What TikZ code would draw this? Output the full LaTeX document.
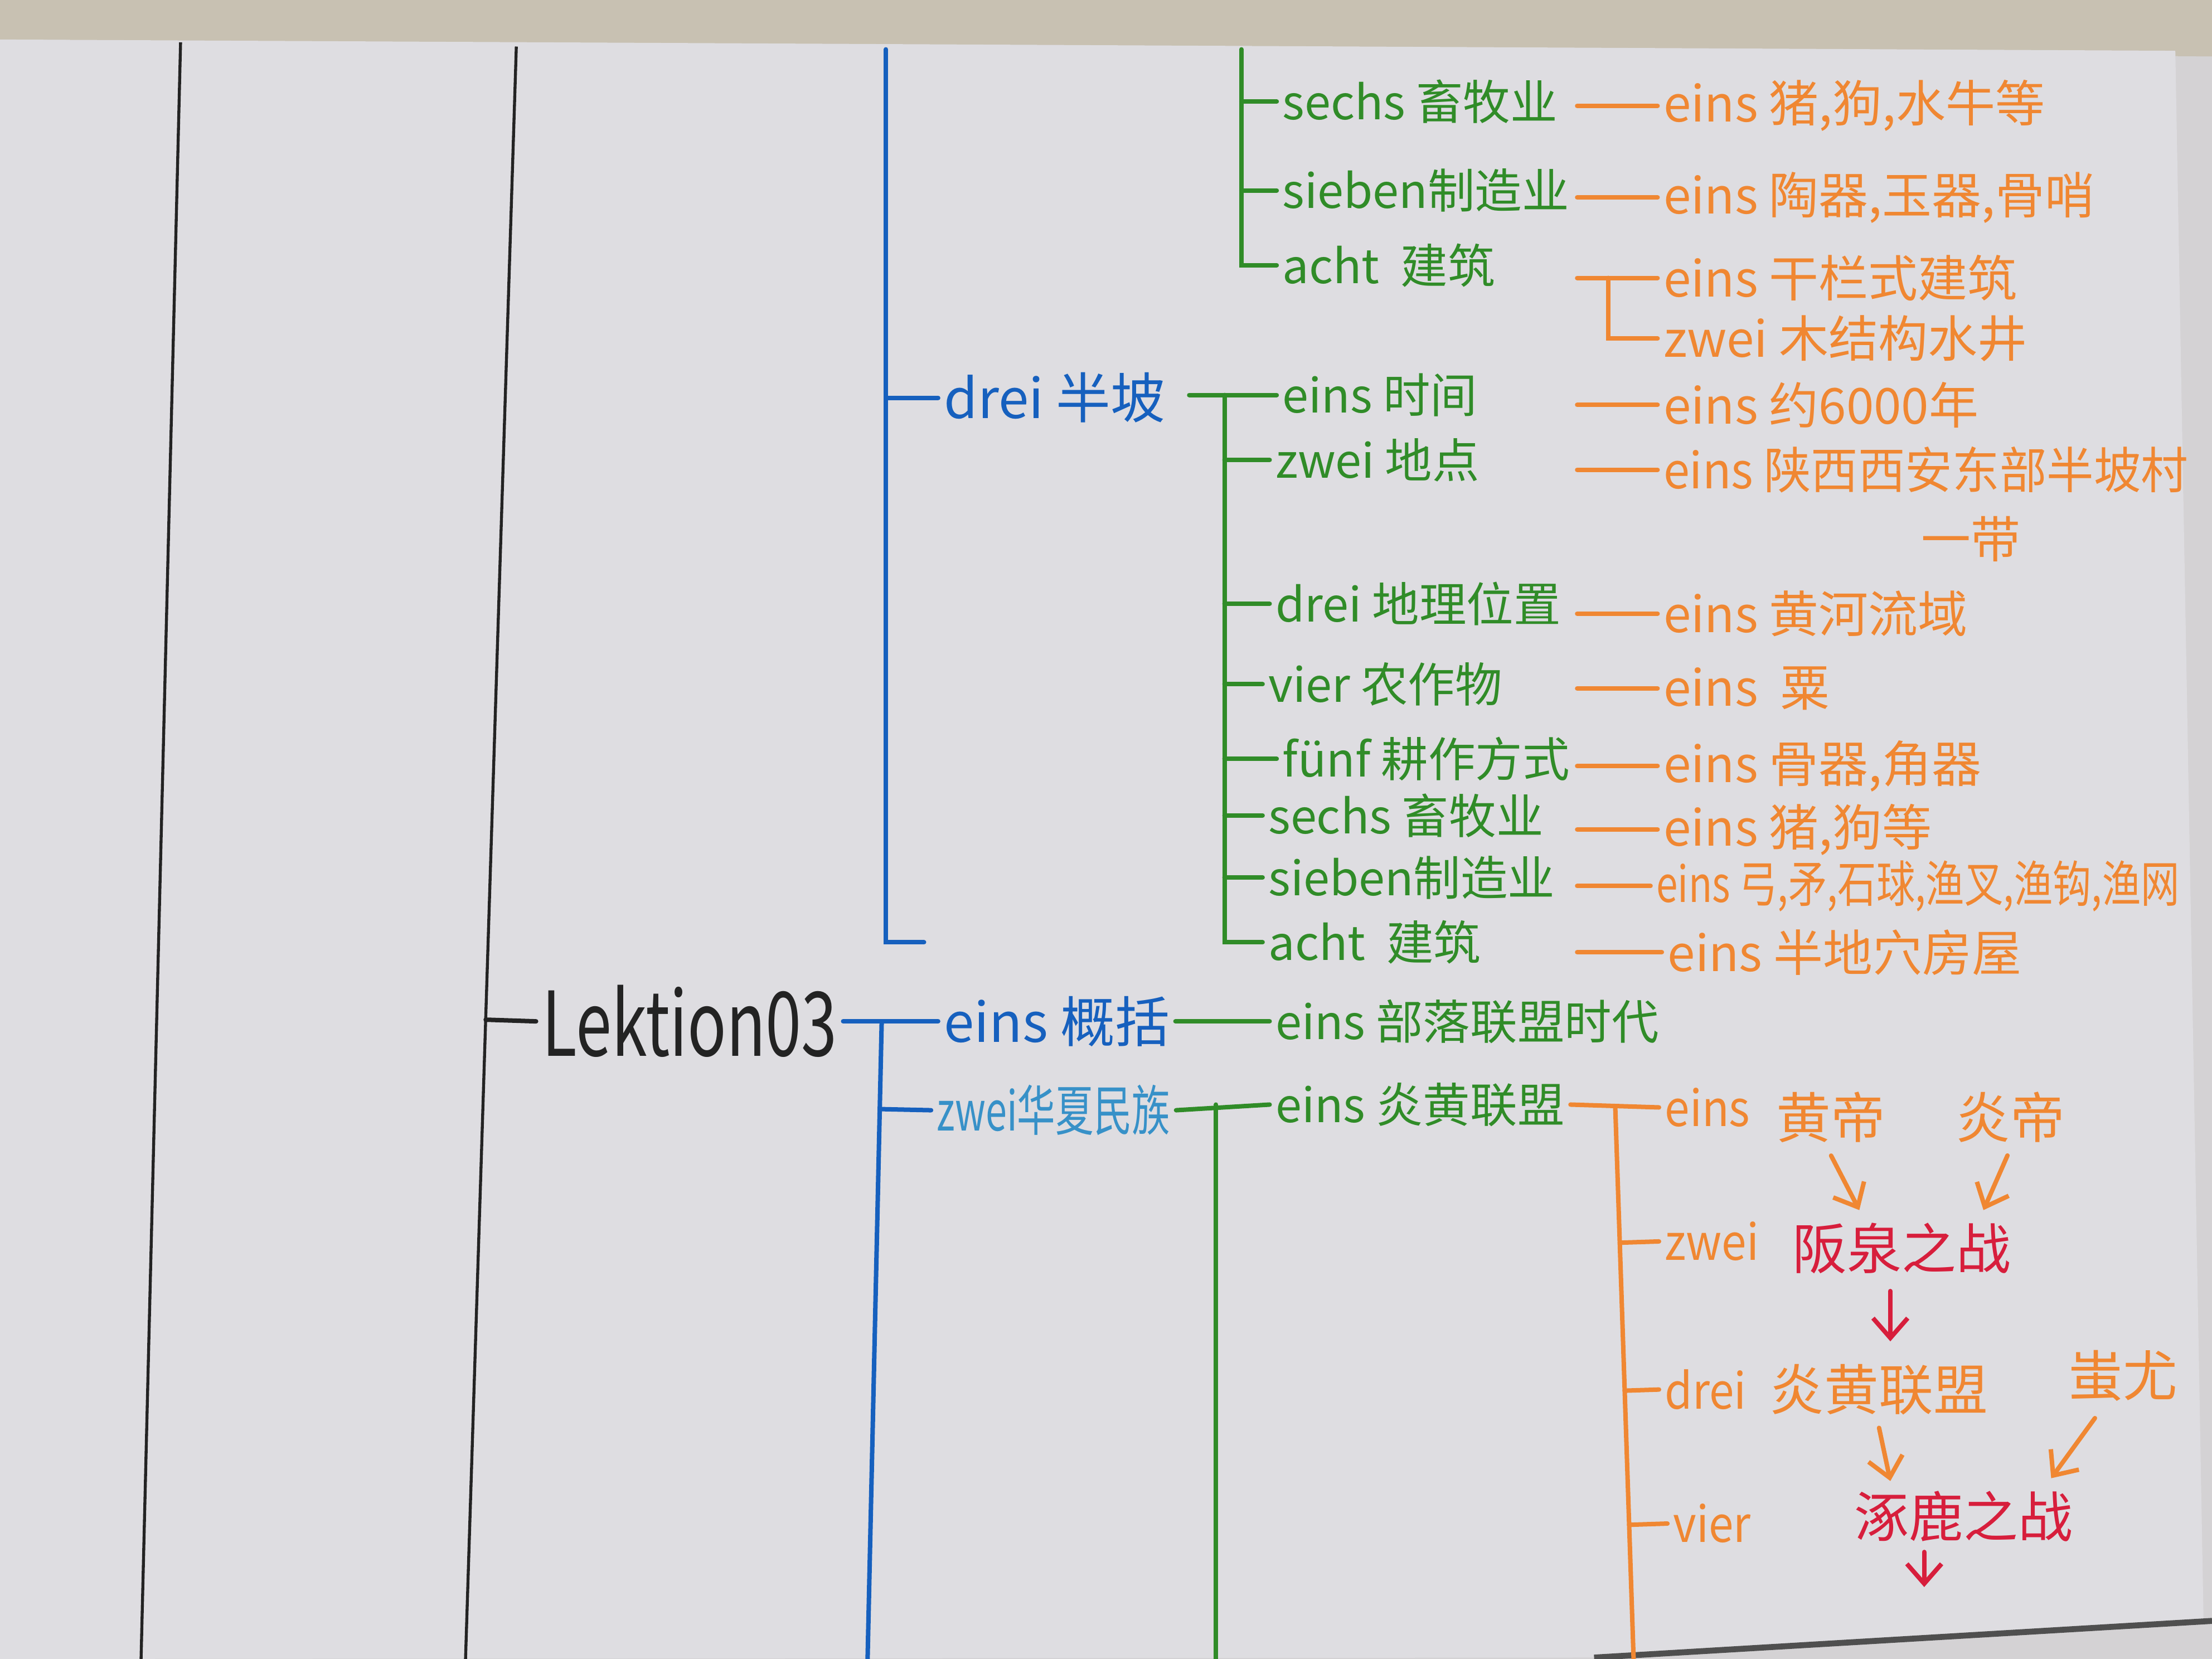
\documentclass[tikz,border=0pt]{standalone}
\usepackage{fontspec}
\setmainfont{Noto Sans CJK SC}
\usetikzlibrary{arrows.meta,calc,positioning}

\definecolor{wall}{RGB}{200,193,178}
\definecolor{sheet}{RGB}{212,210,212}
\definecolor{paper}{RGB}{222,221,225}
\definecolor{inkblack}{RGB}{35,35,35}
\definecolor{inkblue}{RGB}{22,96,190}
\definecolor{inkcyan}{RGB}{55,145,200}
\definecolor{inkgreen}{RGB}{48,140,40}
\definecolor{inkorange}{RGB}{240,135,50}
\definecolor{inkred}{RGB}{215,30,60}

\begin{document}
\begin{tikzpicture}[x=0.01cm,y=-0.01cm,
	>={Straight Barb[length=4pt,width=7pt]},
	ink/.style={line width=0.9pt,line cap=round},
	blk/.style={line width=0.6pt,draw=inkblack},
	bl/.style={anchor=west,inner sep=1pt,text=inkblue,font=\fontsize{11}{13}\selectfont},
	cy/.style={anchor=west,inner sep=1pt,text=inkcyan,font=\fontsize{11}{13}\selectfont},
	gr/.style={anchor=west,inner sep=1pt,text=inkgreen,font=\fontsize{9.5}{11}\selectfont},
	og/.style={anchor=west,inner sep=1pt,text=inkorange,font=\fontsize{10}{12}\selectfont},
	big/.style={inner sep=1pt,font=\fontsize{11}{13}\selectfont}]

	\useasboundingbox (0,0) rectangle (1568,1176);
	\clip (0,0) rectangle (1568,1176);
	% photo background
	\fill[sheet] (0,0) rectangle (1568,1176);
	\fill[wall] (0,0) -- (1568,0) -- (1568,40) -- (0,28) -- cycle;
	\fill[paper] (0,28) -- (1542,36) -- (1562,1148) -- (1130,1175) -- (0,1176) -- cycle;
	\draw[inkblack!80,line width=1.2pt] (1130,1175) -- (1568,1149);

	% margin lines and title
	\coordinate (m1top) at (128,30);
	\coordinate (m1bot) at (100,1176);
	\coordinate (m2top) at (366,33);
	\coordinate (m2bot) at (330,1176);
	\draw[blk] (m1top) -- (m1bot);
	\draw[blk] (m2top) -- (m2bot);
	\node[anchor=west,inner sep=1pt,text=inkblack,font=\fontsize{18}{20}\selectfont] (lek) at (380,724) {\scalebox{0.72}[1]{Lektion03}};
	\draw[ink,inkblack] ($(m2top)!(lek.west)!(m2bot)$) -- (lek.west);

	% blue level
	\node[bl] (bbp) at (665,282) {drei 半坡};
	\node[bl] (bgk) at (665,724) {eins 概括};
	\node[cy] (bhx) at (660,787) {\scalebox{0.7}[1]{zwei华夏民族}};
	\coordinate (b1top) at (628,35);
	\coordinate (b1foot) at (655,668);
	\coordinate (b2top) at (625,724);
	\coordinate (b2bot) at (615,1176);

	% green level
	\begin{scope}[every node/.style={gr}]
		\node (gxm1) at (905,72) {sechs 畜牧业};
		\node (gzz1) at (905,135) {sieben制造业};
		\node (gjz1) at (905,188) {acht\ \ 建筑};
		\node (gsj) at (905,280) {eins 时间};
		\node (gdd) at (900,326) {zwei 地点};
		\node (gdl) at (900,428) {drei 地理位置};
		\node (gnz) at (895,485) {vier 农作物};
		\node (ggz) at (905,538) {fünf 耕作方式};
		\node (gxm2) at (895,578) {sechs 畜牧业};
		\node (gzz2) at (895,622) {sieben制造业};
		\node (gjz2) at (895,668) {acht\ \ 建筑};
		\node (gbl) at (900,724) {eins 部落联盟时代};
		\node (gyh) at (900,783) {eins 炎黄联盟};
	\end{scope}
	\coordinate (g1top) at (880,35);
	\coordinate (g2root) at (843,0);
	\coordinate (g2x) at (868,0);
	\coordinate (g3x) at (862,0);
	\coordinate (g3bot) at (862,1176);

	% orange level
	\begin{scope}[every node/.style={og}]
		\node (oxm1) at (1175,75) {eins 猪,狗,水牛等};
		\node (ozz1) at (1175,140) {eins 陶器,玉器,骨哨};
		\node (ogl) at (1175,197) {eins 干栏式建筑};
		\node (osj) at (1175,240) {zwei 木结构水井};
		\node (osn) at (1175,287) {eins 约6000年};
		\node (odd) at (1175,333) {\scalebox{0.95}[1]{eins 陕西西安东部半坡村}};
		\node[anchor=center] (oyd) at (1397,382) {一带};
		\node (ohh) at (1175,435) {eins 黄河流域};
		\node (osu) at (1175,488) {eins\ \ 粟};
		\node (ogq) at (1175,543) {eins 骨器,角器};
		\node (oxm2) at (1175,588) {eins 猪,狗等};
		\node (ozz2) at (1170,628) {\scalebox{0.78}[1]{eins 弓,矛,石球,渔叉,渔钩,渔网}};
		\node (ojz2) at (1178,675) {eins 半地穴房屋};
		\node (le) at (1176,785) {\scalebox{0.9}[1]{eins}};
		\node (lz) at (1176,880) {\scalebox{0.9}[1]{zwei}};
		\node (ld) at (1176,985) {\scalebox{0.9}[1]{drei}};
		\node (lv) at (1182,1080) {\scalebox{0.9}[1]{vier}};
	\end{scope}
	\coordinate (odash) at (1118,0);
	\coordinate (otx) at (1140,0);
	\coordinate (o3x) at (1145,0);
	\coordinate (o3bot) at (1158,1176);

	% battles
	\node[big,text=inkorange] (hd) at (1298,792) {黄帝};
	\node[big,text=inkorange] (yd) at (1425,792) {炎帝};
	\node[big,text=inkred] (bq) at (1348,885) {阪泉之战};
	\node[big,text=inkorange] (yh) at (1332,985) {炎黄联盟};
	\node[big,text=inkorange] (cyou) at (1505,975) {蚩尤};
	\node[big,text=inkred] (zl) at (1392,1075) {涿鹿之战};
	\coordinate (zlend) at (1364,1125);

	% blue lines
	\begin{scope}[ink,inkblue]
		\draw (b1top) -- (b1top |- b1foot) -- (b1foot);
		\draw (b1top |- bbp.west) -- (bbp.west);
		\draw (lek.east) -- (bgk.west);
		\draw (b2top) -- (b2bot);
		\draw ($(b2top)!(bhx.west)!(b2bot)$) -- (bhx.west);
	\end{scope}

	% green lines
	\begin{scope}[ink,inkgreen]
		\draw (g1top) -- (g1top |- gjz1.west) -- (gjz1.west);
		\foreach \n in {gxm1,gzz1}
			\draw (g1top |- \n.west) -- (\n.west);
		\draw (gsj.west -| g2root) -- (gsj.west);
		\draw (gsj.west -| g2x) -- (gjz2.west -| g2x) -- (gjz2.west);
		\foreach \n in {gdd,gdl,gnz,ggz,gxm2,gzz2}
			\draw (\n.west -| g2x) -- (\n.west);
		\draw (bgk.east) -- (gbl.west);
		\draw (bhx.east) -- (gyh.west);
		\draw (gyh.west -| g3x) -- (g3bot);
	\end{scope}

	% orange lines
	\begin{scope}[ink,inkorange]
		\foreach \n in {oxm1,ozz1,ogl,osn,odd,ohh,osu,ogq,oxm2,ozz2,ojz2}
			\draw (\n.west -| odash) -- (\n.west);
		\draw (ogl.west -| otx) -- (osj.west -| otx) -- (osj.west);
		\draw (gyh.east) -- (le.west);
		\coordinate (o3top) at (le.west -| o3x);
		\draw (o3top) -- (o3bot);
		\foreach \n in {lz,ld,lv}
			\draw ($(o3top)!(\n.west)!(o3bot)$) -- (\n.west);
	\end{scope}

	% arrows
	\draw[ink,inkorange,->] ($(hd.south)+(0,5)$) -- ($(bq.north)+(-30,-5)$);
	\draw[ink,inkorange,->] ($(yd.south)+(-2,5)$) -- ($(bq.north)+(58,-5)$);
	\draw[ink,inkred,->] ($(bq.south)+(-8,8)$) -- ($(yh.north)+(8,-12)$);
	\draw[ink,inkorange,->] ($(yh.south)+(0,5)$) -- ($(zl.north)+(-52,-3)$);
	\draw[ink,inkorange,->] ($(cyou.south)+(-20,8)$) -- ($(zl.north)+(62,-5)$);
	\draw[ink,inkred,->] ($(zl.south)+(-28,3)$) -- (zlend);
\end{tikzpicture}
\end{document}
